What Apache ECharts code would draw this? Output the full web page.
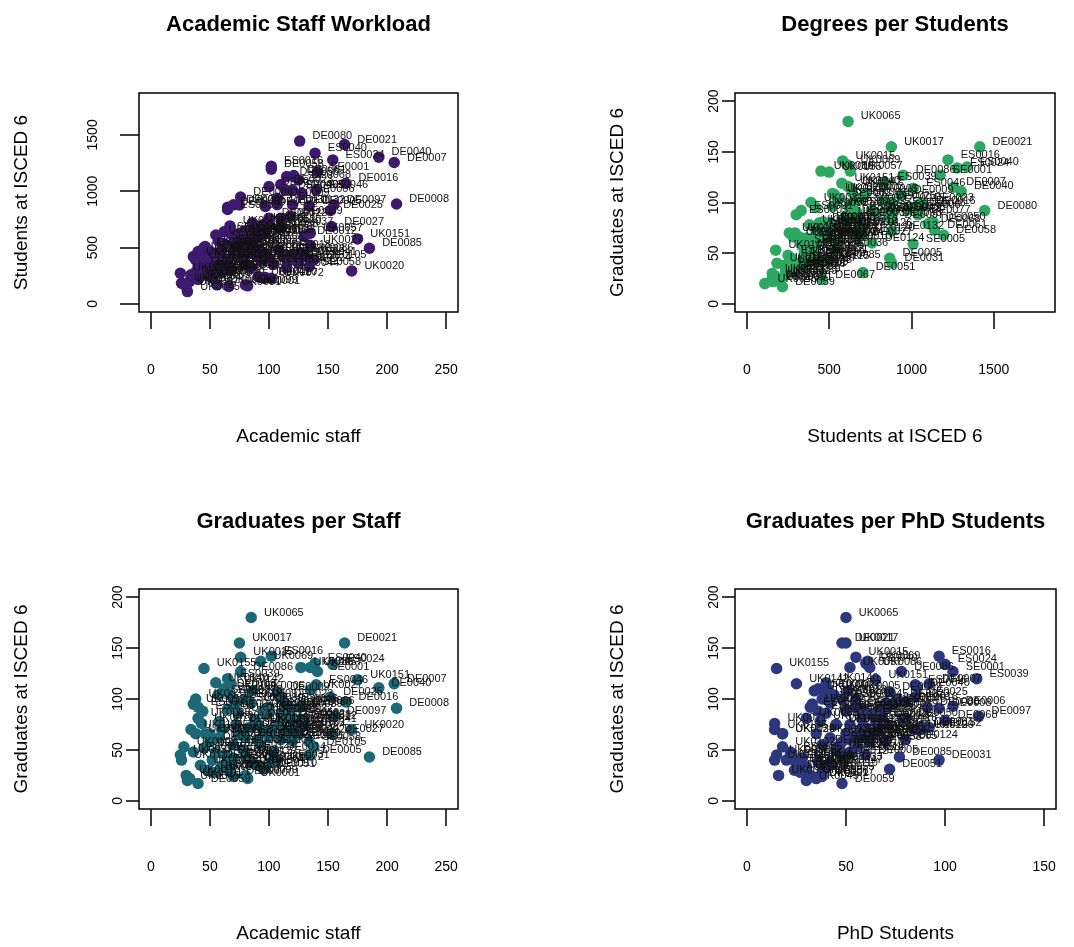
<!DOCTYPE html>
<html><head><meta charset="utf-8">
<script src="https://cdn.jsdelivr.net/npm/echarts@6/dist/echarts.min.js"></script>
<style>html,body{margin:0;padding:0;background:#fff}#c{width:1074px;height:947px}</style>
</head><body><div id="c"></div>
<script>
// ---------------- data (one row per institution) ----------------
const ids = ["DE0021","DE0080","ES0040","ES0024","DE0040","DE0007","SE0001","DE0061","DE0016","ES0046",
"DE0097","DE0025","DE0008","DE0027","UK0057","UK0151","DE0085","UK0027","UK0086","DE0105",
"SE0058","UK0020","ES0016","DE0058","UK0065","UK0017","UK0015","UK0069","DE0086","ES0039",
"UK0155","UK0142","ES0038","DE0009","DE0023","DE0050","SE0005","DE0005","DE0031","DE0051",
"DE0110","DE0067","DE0059","DE0006","UK0039","UK0118","DE0132","UK0120","DE0124","DE0068",
"UK0001","DE0012","DE0010","DE0036","UK0037","UK0112","UK0045","UK0097","UK0101","UK0052",
"UK0031","UK0088","UK0071","UK0024","UK0093","UK0140","UK0109","UK0078","UK0060","DE0042",
"DE0045","DE0093","DE0077","DE0046","UK0126","UK0055","UK0081","UK0099","UK0047","UK0072",
"DE0102","DE0094","DE0071","DE0060","DE0063","DE0082","DE0087","DE0089","DE0115","DE0117",
"DE0120","DE0122","DE0127","DE0130","DE0133","DE0002","DE0003","DE0004","DE0011","DE0013",
"DE0014","DE0018","DE0019","DE0020","DE0022","DE0024","DE0026","DE0028","DE0029","ES0001",
"ES0003","ES0005","SE0002","SE0003","ES0007","ES0009","UK0005","DE0032","DE0034","DE0037",
"DE0039","UK0013","UK0011","UK0029","DE0041","DE0044","UK0102","UK0136","UK0139"];
const academicStaff = [164,126,139,154,193,206,141,121,165,140,
155,152,208,153,135,175,185,135,127,138,
134,170,102,102,85,75,76,93,76,65,
45,68,98,107,110,115,120,134,107,95,
97,70,40,128,85,90,120,100,110,125,
82,130,80,70,25,26,31,30,33,36,
38,40,43,46,50,55,62,67,74,65,
70,97,100,114,90,56,66,80,91,102,
45,50,55,58,60,63,65,68,70,72,
75,78,80,83,85,88,90,93,96,100,
104,108,112,116,120,125,60,52,48,40,
44,36,57,62,72,80,86,100,95,110,
118,58,42,52,130,115,28,34,38];
const studentsISCED6 = [1415,1445,1337,1278,1302,1255,1174,1140,1071,1012,
880,830,887,686,628,577,494,520,450,390,
331,293,1222,1195,615,878,582,613,949,838,
500,624,666,937,1060,1131,1010,868,880,705,
235,460,216,980,520,600,880,700,760,1100,
160,600,560,540,272,183,109,154,200,420,
390,464,430,509,470,612,532,692,597,858,
879,864,1041,1012,686,169,154,169,242,228,
350,380,420,450,480,400,350,300,430,520,
480,400,350,450,320,500,420,380,450,400,
350,480,420,380,440,360,280,300,250,330,
300,250,560,640,620,650,720,760,620,680,
780,380,290,230,420,320,175,258,280];
const graduatesISCED6 = [155,92,135,134,111,115,127,73,97,114,
83,102,91,66,131,119,43,109,131,53,
58,70,142,68,180,155,141,137,127,120,
130,115,91,107,100,81,59,45,40,31,
32,24,17,93,96,76,72,70,60,79,
22,78,62,55,45,40,20,25,22,95,
100,81,76,66,66,116,108,104,86,90,
100,85,88,95,75,28,30,25,35,38,
52,58,48,62,70,45,40,36,42,75,
65,50,44,72,38,80,60,55,68,62,
48,75,70,62,80,65,34,40,30,92,
88,48,104,110,96,100,108,92,88,85,
90,78,35,28,75,66,53,70,66];
const phdStudents = [48,91,60,100,86,92,104,88,80,85,
117,85,97,59,52,65,77,41,62,56,
62,85,97,66,50,50,55,61,78,116,
15,25,58,72,76,80,70,60,97,72,
40,38,48,104,70,70,92,88,80,100,
35,65,42,38,15,14,30,16,35,33,
38,30,14,18,35,40,34,44,40,50,
55,62,66,74,45,38,28,32,42,36,
45,48,52,55,57,22,20,25,28,52,
55,45,48,60,42,58,52,47,64,57,
53,66,60,58,68,64,30,27,24,32,
36,22,40,36,42,48,51,55,50,58,
70,37,26,27,45,50,18,14,18];

// tick labels of the axes
const staffTicks = [0, 50, 100, 150, 200, 250];
const studentTicksY = [0, 500, 1000, 1500];
const studentTicksX = [0, 500, 1000, 1500];
const gradTicks = [0, 50, 100, 150, 200];
const phdTicks = [0, 50, 100, 150];

// ---------------- layout / style ----------------
const FONT = '"Liberation Sans", Arial, Helvetica, sans-serif';
const panels = [
  {title: 'Academic Staff Workload', x: academicStaff, y: studentsISCED6,
   xName: 'Academic staff', yName: 'Students at ISCED 6',
   xTicks: staffTicks, yTicks: studentTicksY, xLim: [0, 250], yLim: [0, 1800],
   box: {left: 139, top: 93, width: 319, height: 219}, color: '#3D1A6D', titleY: 25,
   yLabMargin: 39, yTick: 19},
  {title: 'Degrees per Students', x: studentsISCED6, y: graduatesISCED6,
   xName: 'Students at ISCED 6', yName: 'Graduates at ISCED 6',
   xTicks: studentTicksX, yTicks: gradTicks, xLim: [0, 1800], yLim: [0, 200],
   box: {left: 735, top: 93, width: 320, height: 219}, color: '#2DA862', titleY: 25,
   yLabMargin: 14, yTick: 13},
  {title: 'Graduates per Staff', x: academicStaff, y: graduatesISCED6,
   xName: 'Academic staff', yName: 'Graduates at ISCED 6',
   xTicks: staffTicks, yTicks: gradTicks, xLim: [0, 250], yLim: [0, 200],
   box: {left: 139, top: 589, width: 319, height: 220}, color: '#1D6877', titleY: 522,
   yLabMargin: 14, yTick: 13},
  {title: 'Graduates per PhD Students', x: phdStudents, y: graduatesISCED6,
   xName: 'PhD Students', yName: 'Graduates at ISCED 6',
   xTicks: phdTicks, yTicks: gradTicks, xLim: [0, 150], yLim: [0, 200],
   box: {left: 735, top: 589, width: 321, height: 220}, color: '#2C377D', titleY: 522,
   yLabMargin: 14, yTick: 13}
];

const grids = [], xAxes = [], yAxes = [], series = [], graphics = [];
const hidden = {show: false};
const plain = v => String(v);
panels.forEach((p, i) => {
  const b = p.box;
  const xe = (p.xLim[1] - p.xLim[0]) * 0.04, ye = (p.yLim[1] - p.yLim[0]) * 0.04;
  const xMin = p.xLim[0] - xe, xMax = p.xLim[1] + xe;
  const yMin = p.yLim[0] - ye, yMax = p.yLim[1] + ye;
  const t0 = p.xTicks[0], t1 = p.xTicks[p.xTicks.length - 1];
  const u0 = p.yTicks[0], u1 = p.yTicks[p.yTicks.length - 1];
  const xl = b.left + (t0 - xMin) / (xMax - xMin) * b.width;
  const xr = b.left + (t1 - xMin) / (xMax - xMin) * b.width;
  const yt = b.top + (yMax - u1) / (yMax - yMin) * b.height;
  const yb = b.top + (yMax - u0) / (yMax - yMin) * b.height;
  const g = grids.length;
  grids.push({left: b.left, top: b.top, width: b.width, height: b.height, show: true,
    borderColor: '#000', borderWidth: 1.5, backgroundColor: 'transparent', containLabel: false});
  grids.push({left: xl, top: b.top, width: xr - xl, height: b.height, containLabel: false});
  grids.push({left: b.left, top: yt, width: b.width, height: yb - yt, containLabel: false});

  xAxes.push({gridIndex: g, type: 'value', min: xMin, max: xMax,
    axisLine: hidden, axisTick: hidden, axisLabel: hidden, splitLine: hidden,
    name: p.xName, nameLocation: 'middle', nameGap: 115,
    nameTextStyle: {fontSize: 19, color: '#000', fontFamily: FONT}});
  yAxes.push({gridIndex: g, type: 'value', min: yMin, max: yMax,
    axisLine: hidden, axisTick: hidden, axisLabel: hidden, splitLine: hidden,
    name: p.yName, nameLocation: 'middle', nameGap: 108,
    nameTextStyle: {fontSize: 19, color: '#000', fontFamily: FONT}});

  xAxes.push({gridIndex: g + 1, type: 'value', position: 'bottom', min: t0, max: t1,
    interval: p.xTicks[1] - p.xTicks[0],
    axisLine: {show: false}, splitLine: hidden,
    axisTick: {show: true, length: 17, lineStyle: {color: '#000', width: 1.5}},
    axisLabel: {show: true, margin: 51, fontSize: 14, color: '#000', fontFamily: FONT,
      formatter: plain, showMinLabel: true, showMaxLabel: true}});
  yAxes.push({gridIndex: g + 1, type: 'value', show: false});

  xAxes.push({gridIndex: g + 2, type: 'value', show: false});
  yAxes.push({gridIndex: g + 2, type: 'value', position: 'left', min: u0, max: u1,
    interval: p.yTicks[1] - p.yTicks[0],
    axisLine: {show: false}, splitLine: hidden,
    axisTick: {show: true, length: p.yTick, lineStyle: {color: '#000', width: 1.5}},
    axisLabel: {show: true, margin: p.yLabMargin, rotate: 90, fontSize: 14, color: '#000', fontFamily: FONT,
      formatter: plain, showMinLabel: true, showMaxLabel: true}});

  series.push({type: 'scatter', xAxisIndex: g, yAxisIndex: g, symbol: 'circle', symbolSize: 11.5,
    itemStyle: {color: p.color, opacity: 1},
    data: ids.map((id, k) => [p.x[k], p.y[k], id]),
    label: {show: true, position: 'right', distance: 7, offset: [0, -5],
      formatter: q => q.value[2], fontSize: 11, color: '#111', fontFamily: FONT},
    emphasis: {disabled: true}, silent: true, animation: false});

  graphics.push({type: 'text', x: b.left + b.width / 2, y: p.titleY,
    style: {text: p.title, fill: '#000', fontSize: 22, fontWeight: 'bold', fontFamily: FONT,
      textAlign: 'center', textVerticalAlign: 'middle', align: 'center', verticalAlign: 'middle'}});
});

const chart = echarts.init(document.getElementById('c'), null, {renderer: 'canvas'});
chart.setOption({
  backgroundColor: '#fff', animation: false,
  grid: grids, xAxis: xAxes, yAxis: yAxes, series: series, graphic: graphics
});
</script></body></html>
